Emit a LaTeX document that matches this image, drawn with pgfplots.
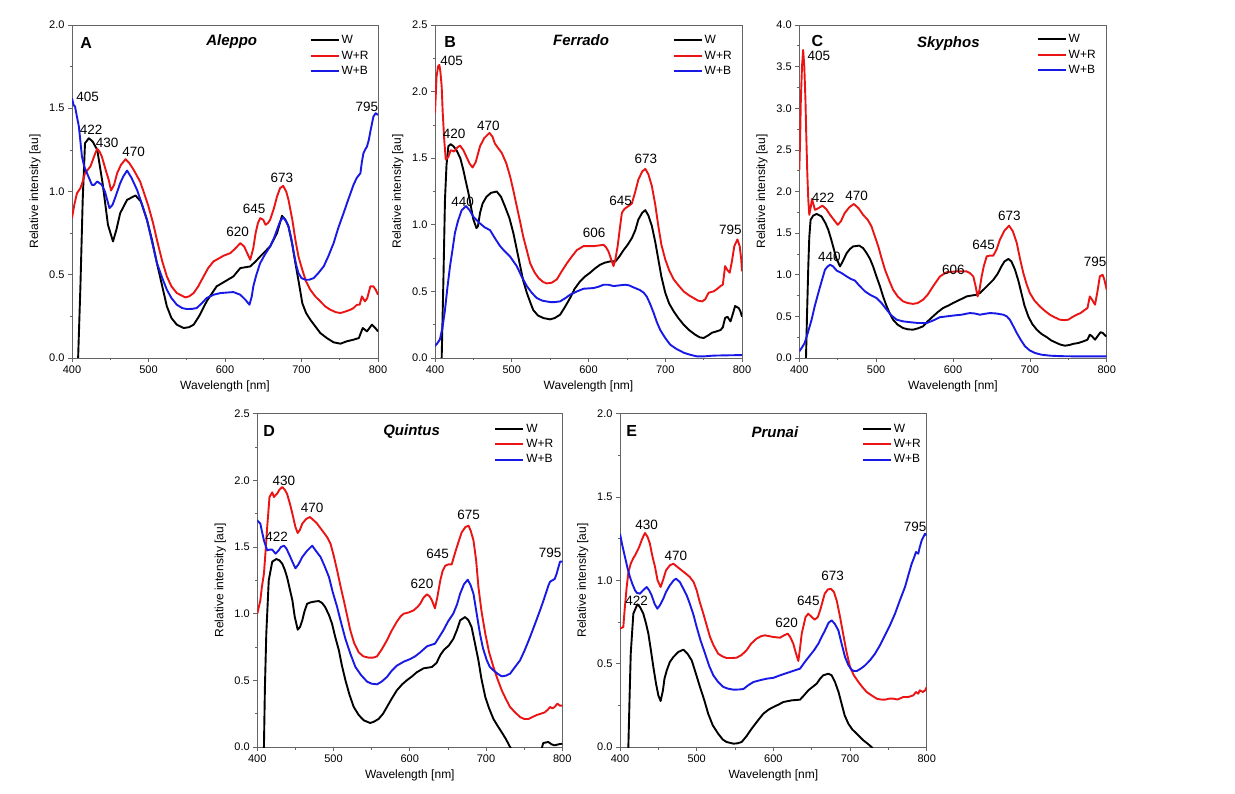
\documentclass[border=0pt]{standalone}
\usepackage{fontspec}
\setmainfont{Liberation Sans}
\usepackage{pgfplots}
\pgfplotsset{compat=1.18}
\definecolor{cR}{RGB}{235,20,20}
\definecolor{cB}{RGB}{25,25,230}
\definecolor{frame}{RGB}{100,100,100}
\pgfplotsset{
  spec/.style={
    scale only axis, anchor=south west,
    xmin=400, xmax=800, ymin=0,
    xtick={400,500,...,800},
    minor x tick num=1, minor y tick num=1,
    tick align=outside, xtick pos=lower, ytick pos=left,
    major tick length=4pt, minor tick length=2.5pt,
    axis line style={frame, line width=0.7pt},
    every tick/.style={frame, line width=0.7pt},
    tick label style={font=\fontsize{11}{12}\selectfont},
    /pgf/number format/assume math mode=true,
    yticklabel style={/pgf/number format/.cd, fixed, fixed zerofill, precision=1},
    xticklabel style={/pgf/number format/1000 sep={}},
    xlabel={Wavelength [nm]}, ylabel={Relative intensity [au]},
    label style={font=\fontsize{12}{13}\selectfont},
    xlabel style={at={(axis description cs:0.5,-0.085)}, anchor=center},
    ylabel style={at={(axis description cs:-0.121,0.5)}, anchor=center},
    legend cell align=left,
    legend style={draw=none, fill=none, font=\fontsize{12}{13}\selectfont, anchor=north west, inner sep=0pt, row sep=1.5pt},
    legend image code/.code={\draw[#1, line width=1.9pt] (0pt,0pt) -- (28pt,0pt);},
    every axis plot/.append style={line width=1.9pt, line join=round},
  },
}
\tikzset{
  annS/.style={font=\fontsize{13.5}{14}\selectfont, anchor=center, inner sep=0pt},
  ttlS/.style={font=\fontsize{15}{16}\selectfont\bfseries\itshape, anchor=center},
  letS/.style={font=\fontsize{16}{17}\selectfont\bfseries, anchor=center},
}
\begin{document}
\begin{tikzpicture}
\path[use as bounding box] (0pt,0pt) rectangle (1235pt,793pt);
% ---------------- A
\begin{axis}[spec, at={(72pt,435pt)}, width=306pt, height=333pt, ymax=2, ytick={0,0.5,...,2.0},
  legend style={at={(0.776,0.975)}}]
\addplot[black] coordinates {(406,-0.2)(408,0)(411,0.43)(414,0.95)(417,1.29)(422,1.32)(427,1.30)(433,1.25)(440,1.05)(447,0.80)(453.6,0.70)(458,0.77)(463,0.87)(472,0.95)(483,0.976)(490,0.94)(498,0.83)(505,0.70)(511,0.57)(518,0.43)(524,0.31)(530,0.24)(537,0.20)(546,0.18)(553,0.185)(559,0.20)(566,0.25)(576,0.34)(589,0.43)(600,0.46)(611,0.49)(620,0.54)(633,0.55)(640,0.58)(646,0.61)(659,0.67)(668,0.75)(674.5,0.854)(679,0.83)(683,0.79)(688,0.68)(692,0.57)(697,0.44)(701,0.33)(706,0.27)(711.5,0.23)(718,0.19)(724.6,0.15)(733,0.12)(742,0.094)(751,0.086)(759,0.10)(768,0.11)(775,0.12)(780,0.18)(785.6,0.16)(792,0.20)(796.5,0.18)(800,0.16)};
\addlegendentry{W}
\addplot[cR] coordinates {(400,0.84)(403,0.92)(406.5,0.99)(411,1.02)(414,1.06)(417,1.11)(424,1.15)(430.5,1.23)(433,1.256)(436,1.24)(439,1.21)(444,1.13)(448,1.07)(451,1.006)(455,1.04)(459,1.11)(464,1.16)(470,1.194)(475,1.17)(480.6,1.13)(489,1.06)(495,0.98)(500,0.91)(506,0.81)(511,0.71)(518,0.58)(524,0.49)(530,0.43)(537,0.39)(548,0.364)(553,0.37)(559,0.39)(565,0.43)(572,0.49)(578,0.54)(585,0.58)(598,0.614)(607,0.63)(614,0.66)(620,0.69)(625,0.67)(629,0.63)(633,0.59)(637,0.66)(640,0.75)(643,0.81)(646,0.84)(650,0.83)(653,0.80)(656,0.81)(659,0.83)(664,0.90)(668,0.97)(672,1.02)(676,1.034)(680,1.00)(683,0.95)(688,0.83)(692,0.71)(696,0.61)(701,0.53)(706,0.46)(711.5,0.41)(718,0.37)(724.6,0.34)(731,0.31)(737.6,0.29)(745,0.275)(751,0.27)(758,0.28)(764,0.29)(768,0.30)(772.5,0.32)(776,0.32)(779,0.37)(783,0.34)(786,0.36)(790,0.43)(794,0.43)(797,0.41)(800,0.38)};
\addlegendentry{W+R}
\addplot[cB] coordinates {(400,1.56)(402,1.52)(404,1.51)(406,1.46)(409,1.39)(413,1.21)(416,1.15)(419.6,1.11)(426,1.04)(429,1.04)(433,1.06)(436,1.05)(439,1.04)(443,1.00)(446,0.95)(449,0.90)(453,0.92)(457,0.97)(463,1.05)(467,1.09)(472,1.126)(478,1.08)(485,1.01)(491,0.93)(498,0.83)(505,0.69)(511,0.57)(518,0.48)(524,0.41)(530,0.36)(537,0.32)(544,0.30)(550,0.294)(557,0.295)(563,0.30)(570,0.33)(576,0.36)(585,0.38)(594,0.39)(611,0.396)(620,0.38)(626.6,0.35)(632,0.32)(635,0.37)(637,0.43)(641,0.50)(646,0.57)(652,0.62)(659,0.67)(664,0.72)(668,0.77)(672,0.82)(676,0.846)(680,0.82)(683,0.79)(687,0.71)(690,0.63)(693,0.56)(696,0.51)(700,0.48)(705,0.47)(710,0.47)(716,0.48)(722,0.51)(729,0.55)(735,0.61)(742,0.69)(748,0.78)(755,0.87)(761,0.95)(768,1.04)(772,1.08)(777,1.11)(779,1.18)(781,1.23)(783,1.25)(785.6,1.27)(788,1.31)(790,1.36)(794,1.45)(797,1.47)(800,1.46)};
\addlegendentry{W+B}
\node[letS] at (rel axis cs:0.046,0.947) {A};
\node[ttlS] at (rel axis cs:0.522,0.95) {Aleppo};
\node[annS] at (axis cs:420.5,1.57) {405};
\node[annS] at (axis cs:425,1.37) {422};
\node[annS] at (axis cs:446,1.29) {430};
\node[annS] at (axis cs:480.6,1.24) {470};
\node[annS] at (axis cs:616.5,0.756) {620};
\node[annS] at (axis cs:638,0.894) {645};
\node[annS] at (axis cs:674.5,1.084) {673};
\node[annS] at (axis cs:785.6,1.51) {795};
\end{axis}
% ---------------- B
\begin{axis}[spec, at={(435pt,435pt)}, width=307pt, height=333pt, ymax=2.5, ytick={0,0.5,...,2.5},
  legend style={at={(0.774,0.975)}}]
\addplot[black] coordinates {(407,-0.2)(408.7,0)(411,0.6)(413,1.19)(415,1.45)(417.4,1.59)(420.4,1.605)(424,1.59)(428,1.56)(433,1.50)(437,1.41)(440,1.33)(443.5,1.24)(447,1.13)(450,1.04)(454,0.975)(456,0.99)(458.7,1.09)(462,1.16)(467,1.21)(473,1.24)(480.4,1.25)(486,1.21)(491,1.14)(497,1.05)(502,0.94)(506,0.83)(511,0.69)(515,0.58)(519.6,0.49)(524,0.42)(528,0.36)(534,0.32)(541,0.30)(550,0.29)(556,0.30)(563,0.325)(569,0.38)(576,0.45)(582,0.52)(589,0.575)(595,0.61)(602,0.64)(608,0.67)(615,0.70)(621,0.715)(628,0.725)(635,0.725)(640,0.76)(645.7,0.81)(651,0.85)(656.5,0.90)(661,0.96)(665,1.04)(670,1.09)(674,1.11)(678,1.07)(682.6,0.99)(687,0.87)(691,0.74)(695,0.61)(700,0.49)(705,0.41)(711,0.35)(717,0.30)(724,0.25)(731,0.21)(739,0.175)(745,0.155)(750,0.15)(756,0.17)(761,0.19)(767,0.20)(772,0.21)(775,0.23)(778,0.30)(781,0.31)(785,0.275)(788,0.33)(791,0.39)(795.7,0.375)(798,0.35)(800,0.31)};
\addlegendentry{W}
\addplot[cR] coordinates {(400,1.84)(402,2.11)(404,2.19)(405.7,2.20)(407,2.15)(408.7,2.04)(410,1.85)(412,1.64)(414,1.49)(417.4,1.51)(420.4,1.56)(423,1.555)(425,1.55)(429,1.58)(432.6,1.595)(437,1.56)(441,1.51)(445,1.46)(449,1.43)(453,1.47)(458.7,1.59)(464,1.65)(471,1.69)(475,1.66)(478,1.61)(483,1.57)(487,1.54)(493,1.46)(498,1.36)(502,1.26)(506.5,1.14)(511,1.02)(515,0.91)(520,0.80)(524,0.71)(530,0.64)(535,0.60)(541,0.57)(545.7,0.56)(552,0.565)(558.7,0.59)(565,0.65)(571.7,0.71)(578,0.76)(584.8,0.81)(593.5,0.84)(606.5,0.84)(614,0.845)(619.6,0.85)(623,0.83)(626,0.80)(629,0.75)(632.6,0.69)(635,0.74)(638,0.84)(641,0.98)(643.5,1.09)(647,1.12)(652,1.14)(656.5,1.16)(661,1.25)(665,1.34)(670,1.40)(674,1.42)(678,1.38)(682.6,1.29)(687,1.15)(691,0.99)(695,0.85)(700,0.74)(705,0.66)(711,0.59)(718,0.54)(724,0.50)(731,0.47)(737,0.45)(743,0.43)(748,0.425)(752,0.44)(756.5,0.49)(763,0.50)(768,0.52)(772,0.54)(775,0.55)(778,0.69)(781,0.66)(784,0.64)(787,0.73)(790,0.84)(794,0.89)(797,0.84)(799,0.74)(800,0.65)};
\addlegendentry{W+R}
\addplot[cB] coordinates {(400,0.09)(403,0.11)(406.5,0.14)(410,0.24)(413,0.36)(416,0.52)(419.6,0.69)(423,0.82)(426,0.94)(430,1.03)(434.8,1.11)(440.4,1.14)(445,1.11)(450,1.06)(458.7,1.01)(465,0.98)(471.7,0.96)(478,0.90)(484.8,0.84)(491,0.80)(498,0.76)(506.5,0.69)(513,0.61)(519.6,0.54)(526,0.49)(532.6,0.45)(540,0.43)(550,0.42)(556,0.42)(563,0.425)(570,0.45)(576,0.475)(585,0.50)(593.5,0.52)(606.5,0.525)(613,0.535)(619.6,0.55)(626,0.55)(632.6,0.54)(640,0.545)(647.8,0.55)(653,0.545)(658.7,0.53)(667,0.51)(672,0.49)(676,0.46)(680,0.41)(684.8,0.34)(689,0.27)(693.5,0.21)(700,0.15)(706.5,0.10)(714,0.07)(724,0.04)(732,0.025)(741,0.0125)(750,0.012)(763,0.018)(780,0.02)(800,0.022)};
\addlegendentry{W+B}
\node[letS] at (rel axis cs:0.049,0.95) {B};
\node[ttlS] at (rel axis cs:0.476,0.955) {Ferrado};
\node[annS] at (axis cs:421.7,2.23) {405};
\node[annS] at (axis cs:424.8,1.68) {420};
\node[annS] at (axis cs:469.6,1.745) {470};
\node[annS] at (axis cs:436,1.17) {440};
\node[annS] at (axis cs:607.4,0.94) {606};
\node[annS] at (axis cs:642,1.18) {645};
\node[annS] at (axis cs:674.8,1.495) {673};
\node[annS] at (axis cs:784.8,0.96) {795};
\end{axis}
% ---------------- C
\begin{axis}[spec, at={(799.3pt,435pt)}, width=307.4pt, height=333pt, ymax=4, ytick={0,0.5,...,4.0},
  legend style={at={(0.772,0.978)}}]
\addplot[black] coordinates {(407,-0.3)(408.7,0)(410,0.5)(411.7,1.10)(413,1.45)(414.7,1.66)(418,1.71)(422.6,1.73)(429,1.70)(434,1.62)(437.7,1.54)(441,1.44)(444,1.34)(448,1.20)(453,1.10)(457,1.17)(461.6,1.26)(466,1.31)(470,1.34)(478,1.35)(483,1.32)(487.6,1.26)(492,1.19)(496,1.10)(500,0.99)(505,0.86)(509,0.74)(513.7,0.62)(518,0.53)(522,0.46)(528,0.40)(535,0.36)(541,0.345)(548,0.34)(554,0.355)(561,0.38)(567,0.44)(574,0.50)(580,0.55)(587,0.60)(594,0.63)(600,0.66)(609,0.70)(617.8,0.74)(624,0.75)(630.8,0.76)(635,0.78)(639.5,0.82)(646,0.88)(652.5,0.94)(658,1.01)(663,1.10)(667,1.16)(672,1.19)(676,1.16)(680.7,1.06)(685,0.93)(689,0.78)(693,0.63)(698,0.50)(703,0.41)(709,0.34)(715,0.29)(722,0.25)(728,0.21)(735,0.18)(740,0.16)(745.7,0.148)(751,0.155)(756.6,0.17)(763,0.18)(769.6,0.20)(775,0.22)(778,0.28)(781,0.26)(784.8,0.22)(788,0.26)(792,0.31)(795,0.30)(798,0.27)(800,0.26)};
\addlegendentry{W}
\addplot[cR] coordinates {(400,2.26)(401,2.6)(402,3.1)(403.5,3.5)(405,3.70)(406.5,3.5)(408,3.1)(409,2.7)(410.4,2.22)(411.7,1.90)(413,1.72)(415,1.82)(416.5,1.91)(418,1.86)(420.4,1.78)(425,1.80)(430,1.83)(435,1.79)(440,1.72)(445,1.66)(450,1.60)(454,1.64)(459,1.74)(465,1.81)(471,1.85)(477,1.80)(483,1.72)(489,1.66)(494,1.58)(498,1.47)(502.8,1.34)(507,1.20)(511.5,1.06)(517,0.93)(522,0.82)(528,0.74)(535,0.68)(541,0.66)(548,0.65)(554,0.66)(561,0.70)(567,0.76)(574,0.86)(583,0.98)(591.7,1.03)(604.8,1.04)(617.8,1.04)(622,1.02)(626.4,0.98)(629,0.88)(632,0.74)(634.5,0.82)(637.3,0.98)(640,1.10)(643.8,1.22)(648,1.23)(652.5,1.23)(657,1.31)(661,1.42)(667,1.53)(673,1.59)(678,1.52)(683,1.38)(687,1.20)(691.5,1.02)(696,0.88)(700,0.78)(706,0.69)(713,0.62)(719,0.57)(726,0.52)(732,0.49)(739,0.46)(745,0.455)(750,0.46)(755,0.49)(761,0.52)(766,0.54)(771.8,0.58)(775,0.60)(778,0.74)(781,0.70)(784.8,0.64)(788,0.80)(791,0.98)(794.7,1.00)(797,0.94)(800,0.82)};
\addlegendentry{W+R}
\addplot[cB] coordinates {(400,0.08)(403,0.12)(407,0.18)(411,0.30)(416,0.46)(420,0.62)(424.7,0.78)(429,0.92)(433.4,1.06)(437,1.10)(440,1.12)(444,1.10)(448.6,1.05)(455,1.02)(461.6,0.98)(467,0.95)(472.4,0.93)(478,0.87)(485.5,0.80)(492,0.76)(500.6,0.72)(507,0.66)(513.7,0.58)(520,0.51)(526.7,0.46)(535,0.44)(544,0.43)(555,0.42)(565.7,0.42)(574,0.45)(583,0.49)(592,0.50)(600.4,0.51)(611,0.52)(622,0.54)(628,0.535)(635,0.52)(641,0.53)(648,0.54)(656,0.535)(665.5,0.52)(670,0.50)(674,0.46)(678,0.39)(683,0.30)(688,0.22)(693.7,0.14)(700,0.09)(706.7,0.06)(715,0.04)(726,0.028)(740,0.022)(756.6,0.02)(780,0.02)(800,0.02)};
\addlegendentry{W+B}
\node[letS] at (rel axis cs:0.059,0.953) {C};
\node[ttlS] at (rel axis cs:0.485,0.945) {Skyphos};
\node[annS] at (axis cs:425.6,3.63) {405};
\node[annS] at (axis cs:431,1.92) {422};
\node[annS] at (axis cs:474.6,1.95) {470};
\node[annS] at (axis cs:439,1.22) {440};
\node[annS] at (axis cs:600.4,1.06) {606};
\node[annS] at (axis cs:640,1.36) {645};
\node[annS] at (axis cs:673.3,1.71) {673};
\node[annS] at (axis cs:784.8,1.15) {795};
\end{axis}
% ---------------- D
\begin{axis}[spec, at={(257.3pt,46pt)}, width=305pt, height=333.3pt, ymax=2.5, ytick={0,0.5,...,2.5},
  legend style={at={(0.777,0.975)}}]
\addplot[black] coordinates {(407,-0.3)(408.7,0)(410,0.45)(411.8,0.85)(415,1.25)(419.6,1.39)(425,1.41)(429,1.40)(432.7,1.375)(436,1.33)(439,1.275)(442,1.20)(446,1.10)(449,0.98)(453,0.88)(456,0.90)(459,0.95)(462,1.02)(465.4,1.075)(470,1.085)(474,1.09)(480.7,1.095)(485,1.08)(489,1.05)(494,0.99)(498,0.925)(502,0.83)(507,0.725)(511,0.61)(515.6,0.50)(521,0.39)(526.5,0.30)(533,0.24)(539.6,0.20)(548,0.18)(553,0.19)(559,0.21)(565,0.25)(570,0.30)(576,0.36)(583,0.425)(590,0.47)(596,0.50)(603,0.53)(609,0.56)(618,0.59)(629,0.60)(635,0.63)(640,0.69)(645,0.73)(651,0.76)(657,0.81)(662,0.88)(666,0.95)(672.6,0.975)(677,0.95)(681,0.90)(685,0.79)(690,0.65)(694,0.51)(699,0.375)(704,0.29)(709.7,0.21)(715,0.16)(720.6,0.11)(726,0.06)(731.5,0.0)(737,-0.05)(760,-0.1)(772,-0.03)(775,0.03)(781.7,0.0375)(786,0.02)(790,0.0125)(795,0.02)(800,0.025)};
\addlegendentry{W}
\addplot[cR] coordinates {(400,1.00)(404,1.10)(406,1.20)(408.7,1.30)(411,1.48)(413,1.65)(416,1.875)(419.6,1.91)(421.8,1.875)(424,1.89)(426,1.90)(429,1.93)(432.7,1.95)(436,1.93)(439,1.90)(443,1.82)(446,1.75)(450,1.65)(453,1.605)(456,1.63)(459,1.675)(464,1.71)(469,1.725)(474,1.70)(478.5,1.675)(483,1.64)(487,1.61)(492,1.57)(496,1.525)(500,1.44)(504.7,1.325)(509,1.21)(513.4,1.10)(518,0.98)(522,0.875)(527,0.78)(533,0.71)(539,0.68)(546,0.67)(552,0.67)(557,0.68)(563,0.73)(570,0.80)(576,0.87)(583,0.94)(588,0.98)(592,1.00)(599,1.01)(605,1.025)(610,1.05)(613.7,1.075)(618,1.12)(622.5,1.145)(626,1.13)(629,1.10)(633,1.04)(636,1.12)(640,1.25)(643,1.32)(646.5,1.36)(651,1.37)(655,1.37)(658,1.43)(661.7,1.50)(668,1.61)(673,1.65)(677,1.66)(680,1.62)(683.5,1.55)(687,1.40)(690,1.20)(694,1.02)(699,0.85)(704,0.71)(709.7,0.60)(715,0.51)(720.6,0.425)(726,0.36)(731.5,0.30)(738,0.26)(744.6,0.225)(750,0.21)(755.5,0.21)(761,0.225)(766.4,0.24)(772,0.25)(777,0.26)(781,0.28)(783.9,0.30)(787,0.29)(790,0.30)(793.5,0.325)(797,0.31)(800,0.31)};
\addlegendentry{W+R}
\addplot[cB] coordinates {(400,1.70)(404,1.675)(406,1.62)(408.7,1.55)(413,1.475)(416,1.48)(419.6,1.48)(424,1.45)(428,1.475)(431,1.50)(435,1.51)(438,1.49)(441.4,1.45)(446,1.39)(450,1.34)(454,1.37)(459,1.425)(465,1.47)(472,1.51)(477,1.47)(483,1.425)(488,1.36)(494,1.275)(499,1.16)(504.7,1.05)(510,0.93)(515.6,0.81)(522,0.70)(528.7,0.60)(536,0.54)(544,0.49)(550,0.475)(557,0.47)(563,0.49)(570,0.525)(576,0.57)(583,0.61)(592,0.64)(600.6,0.66)(607,0.68)(613.7,0.71)(622.5,0.755)(633,0.775)(638,0.82)(644,0.875)(650,0.94)(657,1.00)(662,1.07)(666,1.15)(671,1.22)(676,1.255)(680,1.21)(683.5,1.15)(688,0.99)(692,0.85)(696,0.74)(701,0.65)(705,0.60)(709.7,0.575)(715,0.55)(720.6,0.53)(726,0.535)(731.5,0.55)(738,0.60)(744.6,0.65)(751,0.73)(757.7,0.825)(764,0.92)(770.8,1.025)(776,1.11)(781.7,1.21)(784,1.24)(787,1.25)(790,1.26)(792.6,1.30)(795,1.35)(797,1.39)(800,1.39)};
\addlegendentry{W+B}
\node[letS] at (rel axis cs:0.039,0.948) {D};
\node[ttlS] at (rel axis cs:0.506,0.945) {Quintus};
\node[annS] at (axis cs:434.9,2.00) {430};
\node[annS] at (axis cs:472,1.795) {470};
\node[annS] at (axis cs:425.3,1.575) {422};
\node[annS] at (axis cs:616,1.225) {620};
\node[annS] at (axis cs:636.4,1.445) {645};
\node[annS] at (axis cs:677,1.745) {675};
\node[annS] at (axis cs:783.9,1.46) {795};
\end{axis}
% ---------------- E
\begin{axis}[spec, at={(620pt,46pt)}, width=306.7pt, height=333.3pt, ymax=2, ytick={0,0.5,...,2.0},
  legend style={at={(0.788,0.975)}}]
\addplot[black] coordinates {(409,-0.2)(410.9,0)(412.5,0.30)(414,0.56)(417.4,0.80)(422.6,0.856)(426,0.84)(430.4,0.80)(434,0.74)(437,0.68)(440,0.59)(443.5,0.48)(447,0.38)(450,0.31)(453,0.276)(456,0.34)(458,0.41)(461,0.46)(465,0.51)(469.6,0.54)(476,0.57)(482.6,0.584)(488,0.56)(493.5,0.52)(499,0.44)(504.3,0.36)(510,0.28)(515,0.20)(521,0.13)(528,0.08)(534,0.045)(539,0.03)(548,0.02)(553,0.022)(558.7,0.03)(565,0.065)(571.7,0.11)(580,0.16)(587,0.20)(594,0.225)(600,0.24)(607,0.255)(613,0.27)(624,0.28)(634.8,0.284)(640,0.31)(645.6,0.34)(651,0.36)(656.5,0.38)(661,0.41)(665,0.43)(671.7,0.44)(676,0.43)(680.4,0.39)(685,0.33)(689,0.26)(693,0.19)(697.8,0.14)(703,0.105)(708.7,0.08)(713,0.06)(717.4,0.04)(723,0.02)(728,0.0)(735,-0.04)};
\addlegendentry{W}
\addplot[cR] coordinates {(400,0.71)(404.3,0.72)(406,0.82)(408.7,0.96)(411,1.05)(414,1.10)(417,1.13)(419.6,1.15)(425,1.20)(429,1.25)(432.6,1.284)(436,1.26)(439,1.22)(442,1.15)(445.7,1.08)(449,1.00)(453,0.96)(456,1.00)(460,1.06)(465,1.09)(469.6,1.10)(475,1.08)(480.4,1.06)(486,1.04)(491,1.02)(496,0.99)(500,0.94)(504,0.87)(508.7,0.80)(513,0.73)(517.4,0.66)(522,0.61)(528,0.56)(533,0.545)(539,0.534)(546,0.534)(552,0.536)(558,0.55)(565,0.58)(571,0.62)(578,0.65)(584,0.665)(589,0.67)(595,0.665)(600,0.66)(608.7,0.656)(614,0.67)(618.7,0.68)(622,0.66)(626,0.62)(629,0.57)(632.6,0.516)(635,0.60)(637,0.68)(639,0.72)(642,0.78)(645.6,0.80)(650,0.78)(654,0.764)(658,0.78)(661,0.82)(664,0.87)(667,0.92)(671,0.945)(674.8,0.95)(679,0.93)(682.6,0.88)(687,0.78)(691,0.68)(695,0.58)(700,0.48)(705,0.43)(711,0.39)(716,0.36)(721.7,0.33)(728,0.31)(734.8,0.29)(740,0.285)(745.6,0.284)(751,0.29)(756.5,0.29)(762,0.285)(769.6,0.30)(776,0.30)(782.6,0.31)(786,0.33)(789,0.32)(791,0.34)(795,0.33)(798,0.34)(800,0.36)};
\addlegendentry{W+R}
\addplot[cB] coordinates {(400,1.28)(403,1.21)(406.5,1.14)(410,1.07)(413,1.02)(416,0.98)(419.6,0.94)(422,0.925)(426,0.92)(430,0.94)(434.8,0.96)(438,0.94)(441.3,0.91)(445,0.86)(448.7,0.83)(452,0.85)(456.5,0.89)(460,0.93)(465,0.97)(470,1.00)(473,1.01)(478,0.99)(482.6,0.95)(487,0.91)(491,0.86)(496,0.79)(500,0.72)(505,0.64)(511,0.56)(516,0.49)(521.7,0.43)(528,0.39)(534.8,0.36)(541,0.35)(548,0.344)(555,0.345)(561,0.348)(567,0.37)(574,0.39)(582,0.40)(591.3,0.41)(600,0.415)(608.7,0.43)(615,0.44)(621.7,0.45)(628,0.46)(634.8,0.47)(641,0.51)(647.8,0.55)(653,0.58)(658.7,0.62)(663,0.66)(667.4,0.70)(672,0.745)(676,0.76)(680,0.74)(684.8,0.70)(689,0.62)(693.5,0.54)(698,0.49)(702,0.464)(705,0.456)(708.7,0.456)(714,0.47)(719.6,0.49)(726,0.52)(732.6,0.56)(739,0.61)(745.6,0.67)(752,0.73)(758.7,0.80)(765,0.88)(771.7,0.96)(776,1.03)(780.4,1.10)(783,1.13)(786,1.17)(789,1.16)(791,1.20)(793.5,1.24)(797.8,1.28)(800,1.27)};
\addlegendentry{W+B}
\node[letS] at (rel axis cs:0.038,0.948) {E};
\node[ttlS] at (rel axis cs:0.505,0.945) {Prunai};
\node[annS] at (axis cs:434.8,1.336) {430};
\node[annS] at (axis cs:473,1.15) {470};
\node[annS] at (axis cs:421.7,0.88) {422};
\node[annS] at (axis cs:617.4,0.744) {620};
\node[annS] at (axis cs:645.6,0.874) {645};
\node[annS] at (axis cs:677.4,1.026) {673};
\node[annS] at (axis cs:784.8,1.324) {795};
\end{axis}
\end{tikzpicture}
\end{document}
